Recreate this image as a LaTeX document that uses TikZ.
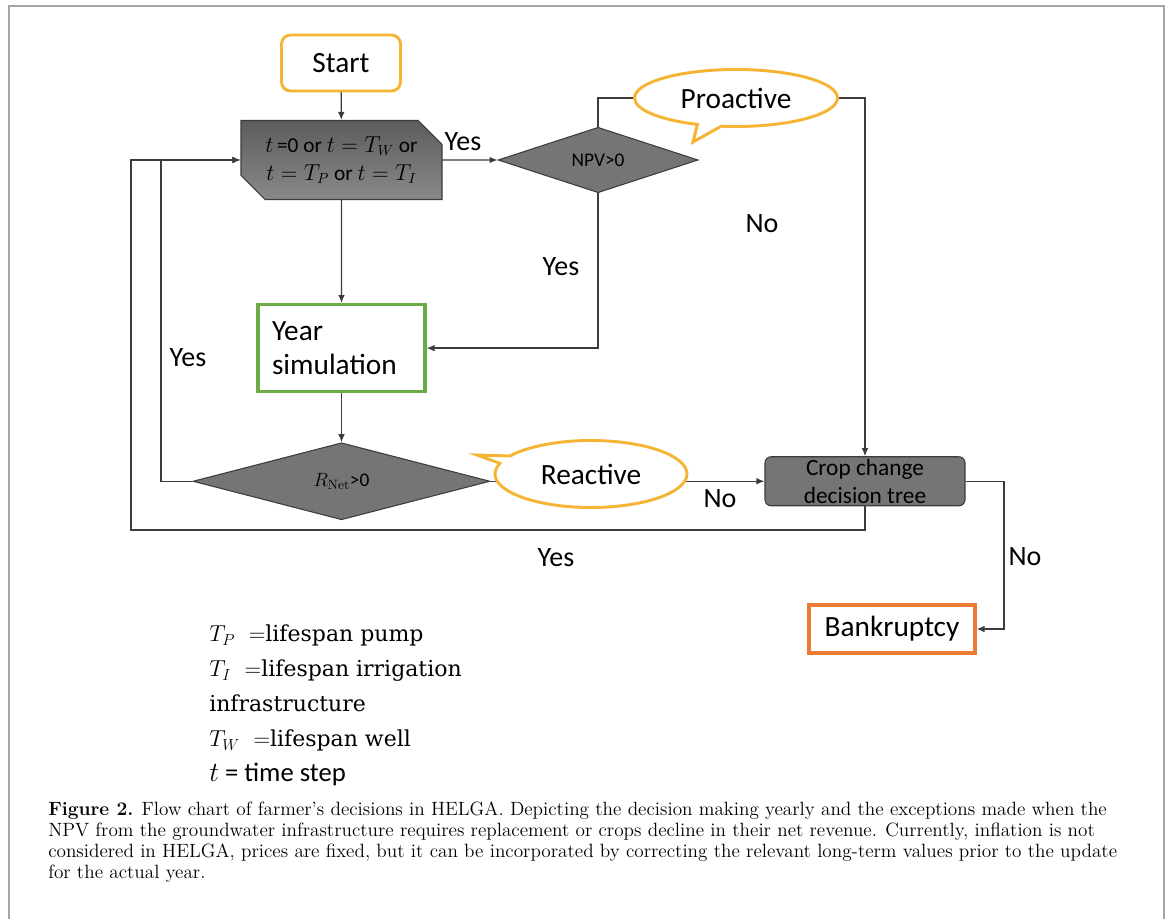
\documentclass[tikz,border=0pt]{standalone}
\usepackage{fontspec}
\setsansfont{Carlito}
\newfontfamily\legfont{DejaVu Serif}
\usetikzlibrary{positioning,arrows.meta,shapes.geometric,shapes.misc,shapes.callouts}
\newlength{\px}
\setlength{\px}{0.75pt}
\definecolor{gold}{RGB}{245,180,52}
\definecolor{rust}{RGB}{236,124,52}
\definecolor{leaf}{RGB}{106,170,72}
\definecolor{wire}{RGB}{60,60,60}
\definecolor{frameg}{RGB}{165,165,165}

\begin{document}
\begin{tikzpicture}[
  x=1\px,y=-1\px,
  font=\sffamily,
  lbl/.style={font=\sffamily\fontsize{21}{24}\selectfont,inner sep=0pt},
  term/.style={rectangle,rounded corners=9\px,draw=gold,line width=2.2pt,fill=white,
               minimum width=119\px,minimum height=56\px,
               font=\sffamily\fontsize{22}{26}\selectfont},
  chk/.style={chamfered rectangle,chamfered rectangle corners={north east,south west},
              chamfered rectangle xsep=12\px,chamfered rectangle ysep=12\px,
              draw=wire,line width=0.8pt,top color=black!64,bottom color=black!46,
              minimum width=201\px,minimum height=79\px,inner sep=0pt,align=center,
              font=\sffamily\fontsize{16}{21}\selectfont},
  dec/.style={diamond,draw=wire,line width=0.8pt,fill=black!54,inner sep=0pt,
              font=\sffamily\fontsize{14.5}{17}\selectfont},
  bubble/.style={ellipse callout,draw=gold,line width=2.2pt,fill=white,inner sep=0pt,
                 callout pointer arc=14,font=\sffamily\fontsize{22}{26}\selectfont},
  stepbox/.style={rectangle,line width=2.4pt,fill=white,inner sep=0pt,
                  font=\sffamily\fontsize{22}{26}\selectfont},
  arr/.style={-{Latex[length=6pt,width=5pt]},line width=1pt,wire},
  ln/.style={line width=1pt,wire},
]
\useasboundingbox (0,0) rectangle (1171,919);
\draw[frameg,line width=1.6pt] (9,6) rectangle (1164,940);

% ---------- main column ----------
\node[term] (st) at (341,63) {Start};
\node[chk] (cnd) at (341.5,160) {$t$\,=0 or $t=T_W$ or\\$t=T_P$ or $t=T_I$};
\node[stepbox,draw=leaf,minimum width=167\px,minimum height=87\px,
      text width=139\px,align=left,below=103\px of cnd] (yr) {Year\\simulation};
\node[dec,minimum width=297\px,minimum height=77\px,below=49\px of yr] (rn)
     {$R_{\mathrm{Net}}$>0};

% ---------- right column ----------
\node[dec,minimum width=200\px,minimum height=64\px,right=55\px of cnd] (npv) {NPV>0};
\node[rectangle,rounded corners=6\px,draw=wire,line width=0.8pt,fill=black!54,
      minimum width=200\px,minimum height=49\px,inner sep=0pt,align=center,
      font=\sffamily\fontsize{17.5}{21}\selectfont] (crp) at (rn.east-|865,0)
     {Crop change\\decision tree};
\node[stepbox,draw=rust,minimum width=166\px,minimum height=48\px] (bk) at (892,629)
     {Bankruptcy};

% ---------- connectors ----------
\coordinate (lpa) at (161,160);
\coordinate (lpb) at (131,530);
\coordinate (lpc) at (1004,629);
\draw[arr] (st) -- (cnd);
\draw[arr] (cnd) -- (npv);
\draw[arr] (cnd) -- (yr);
\draw[arr] (yr) -- (rn);
\draw[arr] (npv.south) |- (yr.east);
\draw[ln] (npv.north) |- (736,98);
\draw[arr] (736,98) -| (crp.north);
\draw[arr] (rn.east) -- (crp.west);
\draw[arr] (rn.west) -| (lpa) -- (cnd.west);
\draw[arr] (crp.south) |- (lpb) |- (cnd.west);
\draw[arr] (crp.east) -| (lpc) -- (bk.east);

% ---------- callouts ----------
\node[bubble,minimum width=203\px,minimum height=57\px,
      callout absolute pointer={(693,142)}] (pro) at (736,98) {Proactive};
\node[bubble,minimum width=192\px,minimum height=67\px,
      callout absolute pointer={(477,455)}] (rea) at (591,474) {Reactive};

% ---------- labels ----------
\node[lbl] (ya) at (463,142) {Yes};
\node[lbl] (na) at (762,224) {No};
\node[lbl] (yb) at (561,267) {Yes};
\node[lbl] (yc) at (188,358) {Yes};
\node[lbl] (nb) at (720,499) {No};
\node[lbl] (yd) at (556,558) {Yes};
\node[lbl] (nc) at (1025,557) {No};

% ---------- legend and caption ----------
\node[anchor=north west,inner sep=0pt,align=left,
      font=\legfont\fontsize{16.5}{26.25}\selectfont] (leg) at (209,625)
     {$T_P\ =$lifespan pump\\
      $T_I\ =$lifespan irrigation\\
      infrastructure\\
      $T_W\ =$lifespan well\\
      {\sffamily\fontsize{20}{26.25}\selectfont $t$ = time step}};
\node[anchor=north west,inner sep=0pt,align=left,
      font=\rmfamily\fontsize{14.4}{15.75}\selectfont] (cap) at (48,802)
     {\textbf{Figure 2.} Flow chart of farmer’s decisions in HELGA. Depicting the decision making yearly and the exceptions made when the\\
      NPV from the groundwater infrastructure requires replacement or crops decline in their net revenue. Currently, inflation is not\\
      considered in HELGA, prices are fixed, but it can be incorporated by correcting the relevant long-term values prior to the update\\
      for the actual year.};
\end{tikzpicture}
\end{document}
